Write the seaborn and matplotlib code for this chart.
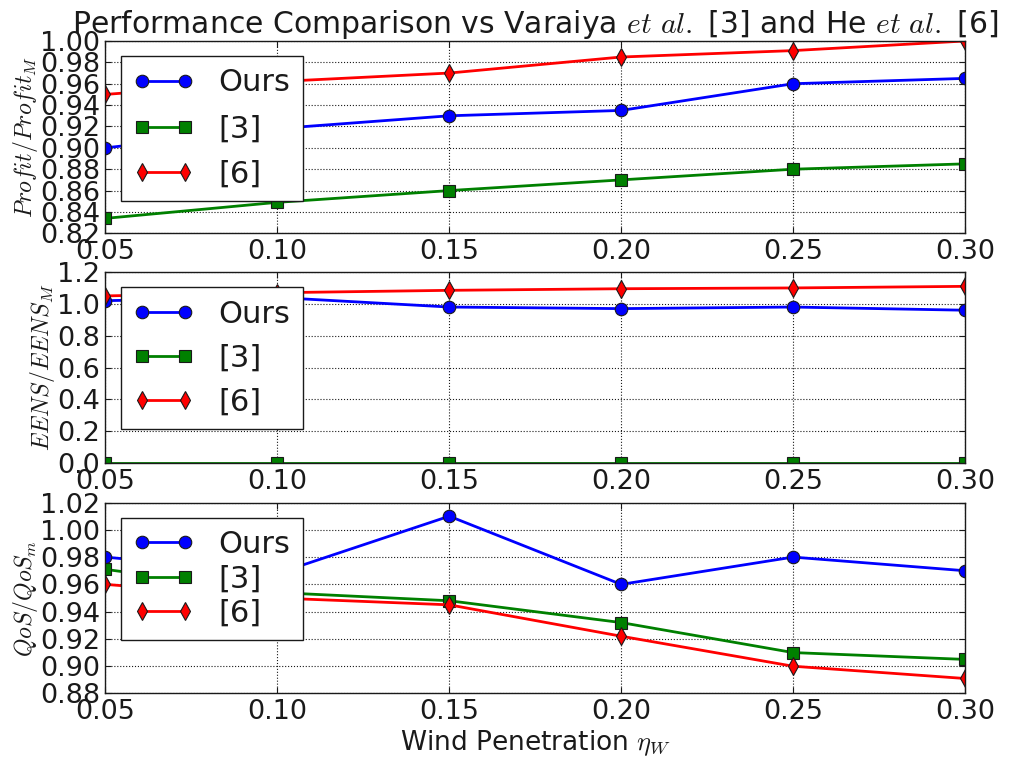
import matplotlib
matplotlib.use("Agg")
import matplotlib.pyplot as plt
from matplotlib.ticker import FormatStrFormatter
import pandas as pd
import seaborn as sns

# Wind penetration levels (x axis)
wind = [0.05, 0.10, 0.15, 0.20, 0.25, 0.30]
methods = ["Ours", "[3]", "[6]"]

# Profit / Profit_M
profit_ours = [0.90, 0.918, 0.93, 0.935, 0.96, 0.965]
profit_ref3 = [0.834, 0.849, 0.86, 0.87, 0.88, 0.885]
profit_ref6 = [0.95, 0.962, 0.97, 0.985, 0.991, 1.00]

# EENS / EENS_M
eens_ours = [1.02, 1.04, 0.98, 0.97, 0.98, 0.96]
eens_ref3 = [0.0, 0.0, 0.0, 0.0, 0.0, 0.0]
eens_ref6 = [1.05, 1.07, 1.085, 1.095, 1.10, 1.11]

# QoS / QoS_m
qos_ours = [0.98, 0.968, 1.01, 0.96, 0.98, 0.97]
qos_ref3 = [0.971, 0.954, 0.948, 0.932, 0.910, 0.905]
qos_ref6 = [0.96, 0.95, 0.945, 0.922, 0.90, 0.891]

colors = {"Ours": "#0000ff", "[3]": "#008000", "[6]": "#ff0000"}
markers = {"Ours": "o", "[3]": "s", "[6]": "d"}


def make_df(ours, ref3, ref6):
    rows = []
    for name, vals in zip(methods, [ours, ref3, ref6]):
        for x, v in zip(wind, vals):
            rows.append({"wind": x, "value": v, "method": name})
    return pd.DataFrame(rows)


sns.set_theme(style="whitegrid")
plt.rcParams.update({
    "font.family": ["DejaVu Sans"],
    "mathtext.fontset": "cm",
    "axes.edgecolor": "k",
    "axes.linewidth": 1.0,
    "axes.facecolor": "white",
    "grid.color": "k",
    "grid.linestyle": ":",
    "grid.linewidth": 0.8,
    "xtick.direction": "in",
    "ytick.direction": "in",
    "xtick.top": True,
    "xtick.bottom": True,
    "ytick.left": True,
    "ytick.right": True,
    "xtick.major.size": 4,
    "ytick.major.size": 4,
    "xtick.major.width": 0.8,
    "ytick.major.width": 0.8,
    "xtick.color": "k",
    "ytick.color": "k",
    "xtick.labelsize": 19.5,
    "ytick.labelsize": 19.5,
    "xtick.major.pad": 4,
    "ytick.major.pad": 4,
    "text.color": "k",
    "axes.labelcolor": "k",
    "legend.fancybox": False,
    "legend.edgecolor": "k",
    "legend.framealpha": 1.0,
})

fig = plt.figure(figsize=(10.26, 7.59), dpi=100)
left, width = 0.1028, 0.8377
ax1 = fig.add_axes([left, 0.6926, width, 0.2534])
ax2 = fig.add_axes([left, 0.3900, width, 0.2516])
ax3 = fig.add_axes([left, 0.0863, width, 0.2516])

panels = [
    (ax1, make_df(profit_ours, profit_ref3, profit_ref6), (0.82, 1.00), 0.02, "%.2f",
     r"$Profit/Profit_M$", 0.55),
    (ax2, make_df(eens_ours, eens_ref3, eens_ref6), (0.0, 1.2), 0.2, "%.1f",
     r"$EENS/EENS_M$", 0.5),
    (ax3, make_df(qos_ours, qos_ref3, qos_ref6), (0.88, 1.02), 0.02, "%.2f",
     r"$QoS/QoS_m$", 0.17),
]

for ax, df, ylim, step, fmt, ylabel, spacing in panels:
    sns.lineplot(data=df, x="wind", y="value", hue="method", style="method",
                 hue_order=methods, style_order=methods, palette=colors,
                 markers=markers, dashes=False, errorbar=None, legend=False,
                 linewidth=2, markersize=9, markeredgecolor="k",
                 markeredgewidth=0.8, ax=ax)
    ax.set_xlim(0.05, 0.30)
    ax.set_ylim(*ylim)
    ax.set_xticks(wind)
    n = int(round((ylim[1] - ylim[0]) / step))
    ax.set_yticks([ylim[0] + i * step for i in range(n + 1)])
    ax.xaxis.set_major_formatter(FormatStrFormatter("%.2f"))
    ax.yaxis.set_major_formatter(FormatStrFormatter(fmt))
    ax.set_ylabel(ylabel, fontsize=17, labelpad=0)
    ax.set_xlabel("")
    ax.grid(True)
    for s in ax.spines.values():
        s.set_visible(True)
        s.set_color("k")
    ax.legend(ax.get_lines()[:3], methods, loc="upper left", numpoints=2,
              fontsize=22, handlelength=2.0, handletextpad=0.8,
              labelspacing=spacing, borderaxespad=0.5, borderpad=0.4)

ax1.set_title(r"Performance Comparison vs Varaiya $et\ al.$ [3] and He $et\ al.$ [6]",
              fontsize=21.5, pad=4)
ax3.set_xlabel(r"Wind Penetration $\eta_W$", fontsize=19, labelpad=2)

fig.savefig("out.png", dpi=100)
